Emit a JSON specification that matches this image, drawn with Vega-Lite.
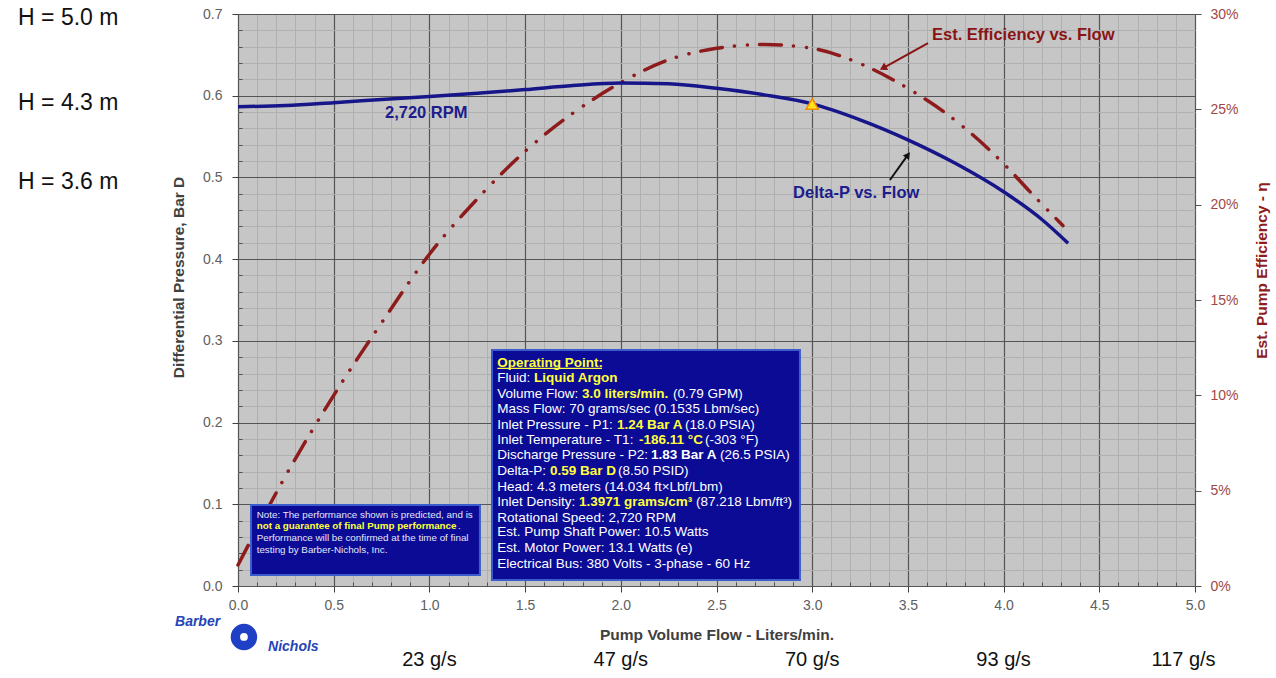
{
  "$schema": "https://vega.github.io/schema/vega-lite/v6.json",
  "width": 957,
  "height": 572,
  "autosize": {"type": "none"},
  "padding": {"left": 238, "top": 14, "right": 81, "bottom": 92},
  "background": "white",
  "config": {
    "view": {"fill": "#c6c6c6", "stroke": "#7a7a7a", "strokeWidth": 1},
    "font": "Liberation Sans",
    "text": {"font": "Liberation Sans"},
    "axis": {"labelFlush": false}
  },
  "datasets": {
    "dp": [
      {"flow": 0, "dp": 0.5866}, {"flow": 0.25, "dp": 0.588}, {"flow": 0.5, "dp": 0.5915},
      {"flow": 0.75, "dp": 0.5953}, {"flow": 1.0, "dp": 0.599}, {"flow": 1.25, "dp": 0.603},
      {"flow": 1.5, "dp": 0.6075}, {"flow": 1.75, "dp": 0.6125}, {"flow": 2.0, "dp": 0.6155},
      {"flow": 2.25, "dp": 0.6145}, {"flow": 2.5, "dp": 0.609}, {"flow": 2.75, "dp": 0.601},
      {"flow": 3.0, "dp": 0.590}, {"flow": 3.25, "dp": 0.5705}, {"flow": 3.5, "dp": 0.546},
      {"flow": 3.75, "dp": 0.517}, {"flow": 4.0, "dp": 0.4825}, {"flow": 4.2, "dp": 0.4485},
      {"flow": 4.337, "dp": 0.4195}
    ],
    "eff": [
      {"flow": 0, "eff": 0.011}, {"flow": 0.25, "eff": 0.058}, {"flow": 0.5, "eff": 0.100},
      {"flow": 0.75, "eff": 0.138}, {"flow": 1.0, "eff": 0.174}, {"flow": 1.25, "eff": 0.203},
      {"flow": 1.5, "eff": 0.228}, {"flow": 1.75, "eff": 0.248}, {"flow": 2.0, "eff": 0.264},
      {"flow": 2.25, "eff": 0.276}, {"flow": 2.5, "eff": 0.282}, {"flow": 2.75, "eff": 0.284},
      {"flow": 3.0, "eff": 0.282}, {"flow": 3.25, "eff": 0.274}, {"flow": 3.5, "eff": 0.261},
      {"flow": 3.75, "eff": 0.244}, {"flow": 4.0, "eff": 0.2215}, {"flow": 4.15, "eff": 0.2055},
      {"flow": 4.31, "eff": 0.189}
    ],
    "op": [{"flow": 3.0, "dp": 0.59}],
    "boxes": [
      {"x": 1.327, "x2": 2.936, "y": 0.0073, "y2": 0.2888},
      {"x": 0.068, "x2": 1.264, "y": 0.0135, "y2": 0.0991}
    ],
    "infoPlain": [
      {"x": 1.3548, "y": 0.2542, "text": "Fluid:"},
      {"x": 1.3548, "y": 0.2346, "text": "Volume Flow:"},
      {"x": 2.2727, "y": 0.2346, "text": "(0.79 GPM)"},
      {"x": 1.3548, "y": 0.2162, "text": "Mass Flow: 70 grams/sec (0.1535 Lbm/sec)"},
      {"x": 1.3548, "y": 0.1970, "text": "Inlet Pressure - P1:"},
      {"x": 2.3354, "y": 0.1970, "text": "(18.0 PSIA)"},
      {"x": 1.3548, "y": 0.1787, "text": "Inlet Temperature - T1:"},
      {"x": 2.4399, "y": 0.1787, "text": "(-303 °F)"},
      {"x": 1.3548, "y": 0.1603, "text": "Discharge Pressure - P2:"},
      {"x": 2.5183, "y": 0.1603, "text": "(26.5 PSIA)"},
      {"x": 1.3548, "y": 0.1407, "text": "Delta-P:"},
      {"x": 1.9854, "y": 0.1407, "text": "(8.50 PSID)"},
      {"x": 1.3548, "y": 0.1215, "text": "Head: 4.3 meters (14.034 ft×Lbf/Lbm)"},
      {"x": 1.3548, "y": 0.1032, "text": "Inlet Density:"},
      {"x": 2.3929, "y": 0.1032, "text": "(87.218 Lbm/ft³)"},
      {"x": 1.3548, "y": 0.0836, "text": "Rotational Speed: 2,720 RPM"},
      {"x": 1.3548, "y": 0.0657, "text": "Est. Pump Shaft Power: 10.5 Watts"},
      {"x": 1.3548, "y": 0.0461, "text": "Est. Motor Power: 13.1 Watts (e)"},
      {"x": 1.3548, "y": 0.0266, "text": "Electrical Bus: 380 Volts - 3-phase - 60 Hz"}
    ],
    "infoHi": [
      {"x": 1.3548, "y": 0.2725, "text": "Operating Point:"},
      {"x": 1.5465, "y": 0.2542, "text": "Liquid Argon"},
      {"x": 1.7973, "y": 0.2346, "text": "3.0 liters/min."},
      {"x": 1.9802, "y": 0.1970, "text": "1.24 Bar A"},
      {"x": 2.0951, "y": 0.1787, "text": "-186.11 °C"},
      {"x": 1.6301, "y": 0.1407, "text": "0.59 Bar D"},
      {"x": 1.7816, "y": 0.1032, "text": "1.3971 grams/cm³"}
    ],
    "infoBold": [
      {"x": 2.1578, "y": 0.1603, "text": "1.83 Bar A"}
    ],
    "underline": [{"x": 1.3548, "x2": 1.9018, "y": 0.2664}],
    "notePlain": [
      {"x": 0.0977, "y": 0.0869, "text": "Note: The performance shown is predicted, and is"},
      {"x": 1.149, "y": 0.0734, "text": "."},
      {"x": 0.0977, "y": 0.0591, "text": "Performance will be confirmed at the time of final"},
      {"x": 0.0977, "y": 0.0441, "text": "testing by Barber-Nichols, Inc."}
    ],
    "noteHi": [
      {"x": 0.0977, "y": 0.0734, "text": "not a guarantee of final Pump performance"}
    ],
    "blueLabels": [
      {"x": 0.768, "y": 0.5789, "text": "2,720 RPM"},
      {"x": 2.900, "y": 0.4810, "text": "Delta-P vs. Flow"}
    ],
    "redLabels": [
      {"x": 3.626, "y": 0.6743, "text": "Est. Efficiency vs. Flow"}
    ],
    "blueArrow": [{"x": 3.406, "y": 0.4969, "x2": 3.500, "y2": 0.5275}],
    "redArrow": [{"x": 3.605, "y": 0.6645, "x2": 3.370, "y2": 0.6339}],
    "hLabels": [
      {"x": -1.149, "y": 0.6951, "text": "H = 5.0 m"},
      {"x": -1.149, "y": 0.5911, "text": "H = 4.3 m"},
      {"x": -1.149, "y": 0.4944, "text": "H = 3.6 m"}
    ],
    "gsLabels": [
      {"x": 1.0, "y": -0.0906, "text": "23 g/s"},
      {"x": 2.0, "y": -0.0906, "text": "47 g/s"},
      {"x": 3.0, "y": -0.0906, "text": "70 g/s"},
      {"x": 4.0, "y": -0.0906, "text": "93 g/s"},
      {"x": 4.94, "y": -0.0906, "text": "117 g/s"}
    ],
    "logo": [{"x": 0.031, "y": -0.0624}],
    "logoText": [
      {"x": -0.329, "y": -0.0441, "text": "Barber"},
      {"x": 0.157, "y": -0.0747, "text": "Nichols"}
    ]
  },
  "layer": [
    {
      "data": {"name": "eff"},
      "mark": {"type": "line", "color": "#8e1c1c", "strokeWidth": 3.5, "strokeCap": "round", "interpolate": "monotone", "strokeDash": [22, 12, 0.1, 13, 0.1, 12]},
      "encoding": {
        "x": {"field": "flow", "type": "quantitative", "scale": {"domain": [0, 5], "nice": false}, "axis": null},
        "y": {"field": "eff", "type": "quantitative", "scale": {"domain": [0, 0.3], "nice": false},
          "axis": {"orient": "right", "values": [0, 0.05, 0.1, 0.15, 0.2, 0.25, 0.3], "format": ".0%", "grid": false,
            "domain": false, "tickColor": "#555555", "tickSize": 6, "labelColor": "#a04848", "labelFontSize": 14,
            "labelPadding": 9, "title": "Est. Pump Efficiency - η", "titleColor": "#8e1c1c", "titleFontSize": 15.5,
            "titleFontWeight": "bold", "titleAngle": 270, "titlePadding": 31, "titleY": 256}}
      }
    },
    {
      "layer": [
        {
          "data": {"name": "dp"},
          "mark": {"type": "line", "color": "#16168a", "strokeWidth": 3.5, "interpolate": "monotone"},
          "encoding": {
            "x": {"field": "flow", "type": "quantitative", "scale": {"domain": [0, 5], "nice": false},
              "axis": {"orient": "bottom", "values": [0.1,0.2,0.3,0.4,0.6,0.7,0.8,0.9,1.1,1.2,1.3,1.4,1.6,1.7,1.8,1.9,2.1,2.2,2.3,2.4,2.6,2.7,2.8,2.9,3.1,3.2,3.3,3.4,3.6,3.7,3.8,3.9,4.1,4.2,4.3,4.4,4.6,4.7,4.8,4.9],
                "grid": true, "gridColor": "#b0b0b0", "gridWidth": 1, "labels": false, "domain": false, "ticks": true,
                "tickSize": -4, "tickColor": "#505050", "title": null}},
            "y": {"field": "dp", "type": "quantitative", "scale": {"domain": [0, 0.7], "nice": false},
              "axis": {"orient": "left", "values": [0.02,0.04,0.06,0.08,0.12,0.14,0.16,0.18,0.22,0.24,0.26,0.28,0.32,0.34,0.36,0.38,0.42,0.44,0.46,0.48,0.52,0.54,0.56,0.58,0.62,0.64,0.66,0.68],
                "grid": true, "gridColor": "#b0b0b0", "gridWidth": 1, "labels": false, "domain": false, "ticks": true,
                "tickSize": -4, "tickColor": "#505050", "title": null}}
          }
        },
        {
          "data": {"name": "op"},
          "mark": {"type": "point", "shape": "triangle-up", "filled": true, "fill": "#ffe21a", "stroke": "#f08a00", "strokeWidth": 1.5, "size": 150, "opacity": 1},
          "encoding": {
            "x": {"field": "flow", "type": "quantitative",
              "axis": {"orient": "bottom", "values": [0, 0.5, 1, 1.5, 2, 2.5, 3, 3.5, 4, 4.5, 5], "format": ".1f", "grid": true, "gridColor": "#555555",
                "gridWidth": 1.2, "domain": false, "tickColor": "#404040", "tickSize": 6, "labelColor": "#606060",
                "labelFontSize": 14, "labelPadding": 6, "title": "Pump Volume Flow - Liters/min.", "titleColor": "#404040",
                "titleFontSize": 15.5, "titleFontWeight": "bold", "titlePadding": 15}},
            "y": {"field": "dp", "type": "quantitative",
              "axis": {"orient": "left", "values": [0, 0.1, 0.2, 0.3, 0.4, 0.5, 0.6, 0.7], "format": ".1f", "grid": true, "gridColor": "#555555",
                "gridWidth": 1.2, "domain": false, "tickColor": "#404040", "tickSize": 6, "labelColor": "#606060",
                "labelFontSize": 14, "labelPadding": 10, "title": "Differential Pressure, Bar D", "titleColor": "#404040",
                "titleFontSize": 15.5, "titleFontWeight": "bold", "titlePadding": 16, "titleY": 263}}
          }
        },
        {
          "data": {"name": "boxes"},
          "mark": {"type": "rect", "fill": "#0b0b96", "stroke": "#3a5ccc", "strokeWidth": 2},
          "encoding": {
            "x": {"field": "x", "type": "quantitative", "axis": null},
            "x2": {"field": "x2"},
            "y": {"field": "y", "type": "quantitative", "axis": null},
            "y2": {"field": "y2"}
          }
        },
        {
          "data": {"name": "infoPlain"},
          "mark": {"type": "text", "align": "left", "baseline": "middle", "fontSize": 13.5, "color": "#ffffff"},
          "encoding": {
            "x": {"field": "x", "type": "quantitative", "axis": null},
            "y": {"field": "y", "type": "quantitative", "axis": null},
            "text": {"field": "text"}
          }
        },
        {
          "data": {"name": "infoHi"},
          "mark": {"type": "text", "align": "left", "baseline": "middle", "fontSize": 13.5, "fontWeight": "bold", "color": "#ffff3c"},
          "encoding": {
            "x": {"field": "x", "type": "quantitative", "axis": null},
            "y": {"field": "y", "type": "quantitative", "axis": null},
            "text": {"field": "text"}
          }
        },
        {
          "data": {"name": "infoBold"},
          "mark": {"type": "text", "align": "left", "baseline": "middle", "fontSize": 13.5, "fontWeight": "bold", "color": "#ffffff"},
          "encoding": {
            "x": {"field": "x", "type": "quantitative", "axis": null},
            "y": {"field": "y", "type": "quantitative", "axis": null},
            "text": {"field": "text"}
          }
        },
        {
          "data": {"name": "underline"},
          "mark": {"type": "rule", "color": "#ffff3c", "strokeWidth": 1.2},
          "encoding": {
            "x": {"field": "x", "type": "quantitative", "axis": null},
            "x2": {"field": "x2"},
            "y": {"field": "y", "type": "quantitative", "axis": null}
          }
        },
        {
          "data": {"name": "notePlain"},
          "mark": {"type": "text", "align": "left", "baseline": "middle", "fontSize": 9.8, "color": "#e6e6f6"},
          "encoding": {
            "x": {"field": "x", "type": "quantitative", "axis": null},
            "y": {"field": "y", "type": "quantitative", "axis": null},
            "text": {"field": "text"}
          }
        },
        {
          "data": {"name": "noteHi"},
          "mark": {"type": "text", "align": "left", "baseline": "middle", "fontSize": 9.8, "fontWeight": "bold", "color": "#ffff3c"},
          "encoding": {
            "x": {"field": "x", "type": "quantitative", "axis": null},
            "y": {"field": "y", "type": "quantitative", "axis": null},
            "text": {"field": "text"}
          }
        },
        {
          "data": {"name": "blueLabels"},
          "mark": {"type": "text", "align": "left", "baseline": "middle", "fontSize": 16.5, "fontWeight": "bold", "color": "#1c1c8c"},
          "encoding": {
            "x": {"field": "x", "type": "quantitative", "axis": null},
            "y": {"field": "y", "type": "quantitative", "axis": null},
            "text": {"field": "text"}
          }
        },
        {
          "data": {"name": "redLabels"},
          "mark": {"type": "text", "align": "left", "baseline": "middle", "fontSize": 16.5, "fontWeight": "bold", "color": "#8a1414"},
          "encoding": {
            "x": {"field": "x", "type": "quantitative", "axis": null},
            "y": {"field": "y", "type": "quantitative", "axis": null},
            "text": {"field": "text"}
          }
        },
        {
          "data": {"name": "blueArrow"},
          "mark": {"type": "rule", "color": "#111111", "strokeWidth": 2},
          "encoding": {
            "x": {"field": "x", "type": "quantitative", "axis": null},
            "y": {"field": "y", "type": "quantitative", "axis": null},
            "x2": {"field": "x2"},
            "y2": {"field": "y2"}
          }
        },
        {
          "data": {"name": "blueArrow"},
          "mark": {"type": "point", "shape": "triangle-up", "filled": true, "color": "#111111", "size": 60, "angle": 36, "opacity": 1},
          "encoding": {
            "x": {"field": "x2", "type": "quantitative", "axis": null},
            "y": {"field": "y2", "type": "quantitative", "axis": null}
          }
        },
        {
          "data": {"name": "redArrow"},
          "mark": {"type": "rule", "color": "#8a1414", "strokeWidth": 2},
          "encoding": {
            "x": {"field": "x", "type": "quantitative", "axis": null},
            "y": {"field": "y", "type": "quantitative", "axis": null},
            "x2": {"field": "x2"},
            "y2": {"field": "y2"}
          }
        },
        {
          "data": {"name": "redArrow"},
          "mark": {"type": "point", "shape": "triangle-up", "filled": true, "color": "#8a1414", "size": 70, "angle": 241, "opacity": 1},
          "encoding": {
            "x": {"field": "x2", "type": "quantitative", "axis": null},
            "y": {"field": "y2", "type": "quantitative", "axis": null}
          }
        },
        {
          "data": {"name": "hLabels"},
          "mark": {"type": "text", "align": "left", "baseline": "middle", "fontSize": 23, "color": "#111111"},
          "encoding": {
            "x": {"field": "x", "type": "quantitative", "axis": null},
            "y": {"field": "y", "type": "quantitative", "axis": null},
            "text": {"field": "text"}
          }
        },
        {
          "data": {"name": "gsLabels"},
          "mark": {"type": "text", "align": "center", "baseline": "middle", "fontSize": 20, "color": "#111111"},
          "encoding": {
            "x": {"field": "x", "type": "quantitative", "axis": null},
            "y": {"field": "y", "type": "quantitative", "axis": null},
            "text": {"field": "text"}
          }
        },
        {
          "data": {"name": "logo"},
          "mark": {"type": "point", "shape": "circle", "filled": true, "color": "#1f3fc4", "size": 700, "opacity": 1},
          "encoding": {
            "x": {"field": "x", "type": "quantitative", "axis": null},
            "y": {"field": "y", "type": "quantitative", "axis": null}
          }
        },
        {
          "data": {"name": "logo"},
          "mark": {"type": "point", "shape": "circle", "filled": true, "color": "#ffffff", "size": 60, "opacity": 1},
          "encoding": {
            "x": {"field": "x", "type": "quantitative", "axis": null},
            "y": {"field": "y", "type": "quantitative", "axis": null}
          }
        },
        {
          "data": {"name": "logoText"},
          "mark": {"type": "text", "align": "left", "baseline": "middle", "fontSize": 14, "fontStyle": "italic", "fontWeight": "bold", "color": "#2444b8"},
          "encoding": {
            "x": {"field": "x", "type": "quantitative", "axis": null},
            "y": {"field": "y", "type": "quantitative", "axis": null},
            "text": {"field": "text"}
          }
        }
      ],
      "resolve": {"axis": {"x": "independent", "y": "independent"}}
    }
  ],
  "resolve": {"scale": {"y": "independent"}, "axis": {"x": "independent", "y": "independent"}}
}
